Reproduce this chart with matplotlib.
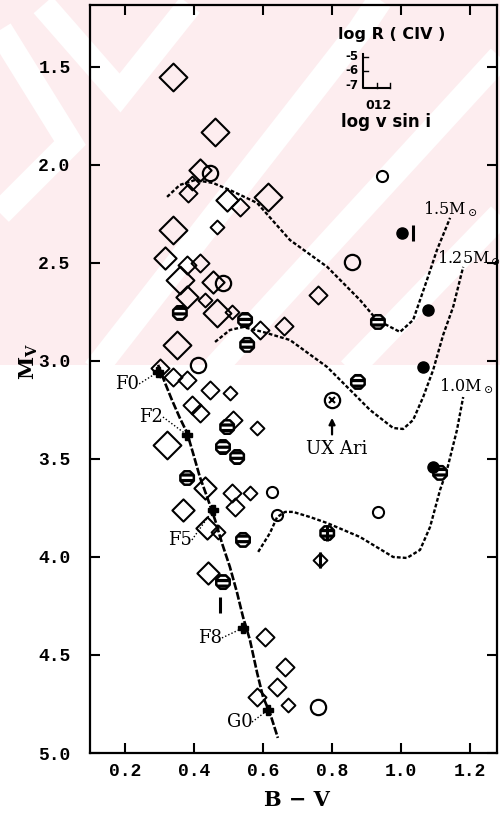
import matplotlib
matplotlib.use("Agg")
import matplotlib.pyplot as plt
from matplotlib.path import Path
from matplotlib.patches import Rectangle
from matplotlib.lines import Line2D

plt.rcParams['mathtext.fontset'] = 'dejavuserif'
plt.rcParams['hatch.linewidth'] = 2.3
plt.rcParams['hatch.color'] = 'black'

# ---------------- data ----------------
# evolutionary tracks (B-V, Mv)
track15_bv = [0.322, 0.359, 0.403, 0.455, 0.504, 0.583, 0.678, 0.786, 0.881, 0.930, 0.997, 1.035, 1.075, 1.104, 1.142]
track15_mv = [2.163, 2.102, 2.077, 2.092, 2.128, 2.194, 2.383, 2.520, 2.689, 2.791, 2.852, 2.791, 2.587, 2.434, 2.270]
track125_bv = [0.461, 0.504, 0.542, 0.600, 0.678, 0.786, 0.861, 0.910, 0.977, 1.006, 1.035, 1.064, 1.093, 1.122, 1.151, 1.180]
track125_mv = [2.903, 2.842, 2.827, 2.852, 2.893, 3.031, 3.163, 3.250, 3.342, 3.347, 3.301, 3.184, 3.046, 2.867, 2.724, 2.520]
track10_bv = [0.586, 0.620, 0.641, 0.664, 0.687, 0.736, 0.786, 0.881, 0.977, 1.017, 1.055, 1.084, 1.113, 1.133, 1.162, 1.180]
track10_mv = [3.974, 3.878, 3.796, 3.770, 3.770, 3.796, 3.827, 3.898, 4.000, 4.005, 3.964, 3.847, 3.658, 3.556, 3.352, 3.184]
track_labels = ['1.5M$_\\odot$', '1.25M$_\\odot$', '1.0M$_\\odot$']
track_label_bv = [1.064, 1.104, 1.110]
track_label_mv = [2.224, 2.474, 3.128]

# main sequence
zams_bv = [0.296, 0.316, 0.336, 0.359, 0.380, 0.397, 0.417, 0.438, 0.461, 0.481, 0.504, 0.525, 0.542, 0.562, 0.583, 0.600, 0.620, 0.643]
zams_mv = [3.020, 3.112, 3.199, 3.291, 3.367, 3.469, 3.592, 3.694, 3.811, 3.929, 4.051, 4.184, 4.306, 4.423, 4.592, 4.714, 4.796, 4.923]

# spectral types on the main sequence
sp_types = ['F0', 'F2', 'F5', 'F8', 'G0']
sp_bv = [0.296, 0.380, 0.455, 0.542, 0.614]
sp_mv = [3.056, 3.378, 3.760, 4.362, 4.781]
sp_label_bv = [0.206, 0.275, 0.359, 0.446, 0.533]
sp_label_mv = [3.117, 3.286, 3.913, 4.413, 4.842]

# open diamonds, by symbol size class
dia_xl_bv = [0.339, 0.461, 0.614, 0.339, 0.359, 0.467, 0.351, 0.322]
dia_xl_mv = [1.551, 1.832, 2.163, 2.332, 2.587, 2.755, 2.918, 3.429]
dia_l_bv = [0.417, 0.496, 0.316, 0.455, 0.380, 0.368, 0.441, 0.432, 0.438]
dia_l_mv = [2.026, 2.179, 2.474, 2.597, 2.673, 3.760, 4.082, 3.648, 3.852]
dia_m_bv = [0.383, 0.533, 0.417, 0.380, 0.591, 0.661, 0.759, 0.301, 0.339, 0.380, 0.446, 0.394, 0.417, 0.513,
            0.510, 0.519, 0.606, 0.664, 0.641, 0.583]
dia_m_mv = [2.143, 2.214, 2.500, 2.510, 2.842, 2.821, 2.663, 3.036, 3.082, 3.097, 3.148, 3.224, 3.265, 3.301,
            3.673, 3.745, 4.408, 4.561, 4.663, 4.714]
dia_s_bv = [0.394, 0.467, 0.432, 0.510, 0.504, 0.583, 0.562, 0.470, 0.672, 0.765]
dia_s_mv = [2.092, 2.316, 2.689, 2.750, 3.163, 3.342, 3.673, 3.872, 4.755, 4.015]

# open circles
circ_bv = [0.446, 0.858, 0.484, 0.412, 0.759]
circ_mv = [2.041, 2.495, 2.602, 3.020, 4.765]
circ_s_bv = [0.945, 0.626, 0.641, 0.933]
circ_s_mv = [2.056, 3.668, 3.786, 3.770]

# hatched (striped) symbols
hat_bv = [0.359, 0.548, 0.554, 0.933, 0.496, 0.484, 0.525, 0.380, 0.542, 0.484, 0.875, 0.786, 1.113]
hat_mv = [2.755, 2.791, 2.918, 2.801, 3.337, 3.439, 3.490, 3.597, 3.913, 4.128, 3.107, 3.878, 3.571]

# filled dots
dot_bv = [1.078, 1.064, 1.003, 1.093]
dot_mv = [2.740, 3.031, 2.347, 3.541]

# small daggers / bars
bar_bv = [1.035, 0.475, 0.786, 0.765]
bar_mv = [2.347, 4.245, 3.878, 4.015]

# UX Ari
uxari_bv = 0.800
uxari_mv = 3.199

# ---------------- figure ----------------
fig = plt.figure(figsize=(5.0, 8.16), dpi=100)
fig.patch.set_facecolor('white')

# faint pink watermark in the upper part
W, H = 500.0, 816.0
def fp(x, y):
    return (x / W, 1 - y / H)
bg = Rectangle(fp(0, 365), 1, 365 / H, transform=fig.transFigure,
               facecolor='#fdedef', edgecolor='none', zorder=0)
fig.patches.append(bg)
white_strokes = [
    [(0, 30), (70, 143), (0, 213)],
    [(43, 5), (120, 93), (190, 5)],
    [(95, 370), (360, 30), (380, 0)],
    [(213, 370), (500, 57)],
    [(350, 370), (500, 215)],
]
for st in white_strokes:
    xs = [fp(*p)[0] for p in st]
    ys = [fp(*p)[1] for p in st]
    ln = Line2D(xs, ys, transform=fig.transFigure, color='white', lw=18,
                solid_capstyle='butt', solid_joinstyle='miter', zorder=0.5)
    ln.set_clip_path(bg)
    fig.lines.append(ln)

ax = fig.add_axes([90 / W, 1 - 753 / H, 407 / W, 748 / H])
ax.set_zorder(2)
ax.set_facecolor('none')
ax.set_xlim(0.0986, 1.278)
ax.set_ylim(5.0, 1.184)

diamond = Path([(0, 1), (1, 0), (0, -1), (-1, 0), (0, 1)],
               [Path.MOVETO, Path.LINETO, Path.LINETO, Path.LINETO, Path.CLOSEPOLY])

k = dict(color='black', zorder=3)
# tracks
ax.plot(track15_bv, track15_mv, lw=1.7, ls=(0, (1.6, 0.9)), **k)
ax.plot(track125_bv, track125_mv, lw=1.7, ls=(0, (1.6, 0.9)), **k)
ax.plot(track10_bv, track10_mv, lw=1.7, ls=(0, (1.6, 0.9)), **k)
ax.plot(zams_bv, zams_mv, lw=1.9, ls=(0, (3, 0.8)), **k)

for lab, x, y in zip(track_labels, track_label_bv, track_label_mv):
    ax.text(x, y, lab, fontsize=11.5, family='DejaVu Serif', ha='left', va='center',
            clip_on=False, zorder=5)

# open diamonds
mk = dict(ls='none', marker=diamond, mfc='none', mec='black', zorder=4)
ax.plot(dia_xl_bv, dia_xl_mv, ms=20, mew=1.5, **mk)
ax.plot(dia_l_bv, dia_l_mv, ms=16, mew=1.5, **mk)
ax.plot(dia_m_bv, dia_m_mv, ms=13, mew=1.4, **mk)
ax.plot(dia_s_bv, dia_s_mv, ms=10, mew=1.4, **mk)

# circles
ax.plot(circ_bv, circ_mv, ls='none', marker='o', ms=11, mfc='none', mec='black', mew=1.6, zorder=4)
ax.plot(circ_s_bv, circ_s_mv, ls='none', marker='o', ms=8, mfc='none', mec='black', mew=1.5, zorder=4)

# hatched symbols
ax.scatter(hat_bv, hat_mv, s=110, marker='8', facecolor='white', edgecolor='black',
           hatch='---', linewidths=1.8, zorder=5)

# filled dots
ax.plot(dot_bv, dot_mv, ls='none', marker='o', ms=8, color='black', zorder=5)
# vertical bars
ax.plot(bar_bv, bar_mv, ls='none', marker='|', ms=11, mew=2.2, color='black', zorder=5)

# spectral types
ax.plot(sp_bv, sp_mv, ls='none', marker='P', ms=7, color='black', zorder=5)
for lab, x, y, sx, sy in zip(sp_types, sp_label_bv, sp_label_mv, sp_bv, sp_mv):
    ax.text(x, y, lab, fontsize=13, family='DejaVu Serif', ha='center', va='center', zorder=6)
    ax.plot([x + 0.035, sx], [y, sy], color='black', lw=1.0, ls=(0, (1, 1.5)), zorder=3)

# UX Ari
ax.plot([uxari_bv], [uxari_mv], ls='none', marker='o', ms=11, mfc='white', mec='black', mew=1.6, zorder=6)
ax.plot([uxari_bv], [uxari_mv], ls='none', marker='x', ms=5, mec='black', mew=1.5, zorder=7)
ax.annotate('', xy=(uxari_bv, uxari_mv + 0.077), xytext=(uxari_bv, uxari_mv + 0.19),
            arrowprops=dict(arrowstyle='-|>', lw=1.6, color='black', mutation_scale=9), zorder=6)
ax.text(uxari_bv + 0.014, uxari_mv + 0.25, 'UX Ari', fontsize=13, family='DejaVu Serif',
        ha='center', va='center', zorder=6)

# symbol key (upper right)
tA = ax.transAxes
ax.text(0.742, 0.961, 'log R ( CIV )', transform=tA, fontsize=11.5, fontweight='bold',
        ha='center', va='center')
for lab, yy in zip(['-5', '-6', '-7'], [0.931, 0.912, 0.892]):
    ax.text(0.643, yy, lab, transform=tA, fontsize=8.5, fontweight='bold', ha='center', va='center')
ax.plot([0.671, 0.671, 0.737], [0.935, 0.889, 0.889], transform=tA, color='black', lw=1.5)
for yy in [0.931, 0.912]:
    ax.plot([0.671, 0.683], [yy, yy], transform=tA, color='black', lw=1.0)
for xx in [0.704, 0.737]:
    ax.plot([xx, xx], [0.889, 0.896], transform=tA, color='black', lw=1.0)
ax.text(0.708, 0.866, '012', transform=tA, fontsize=9, fontweight='bold', ha='center', va='center')
ax.text(0.727, 0.844, 'log v sin i', transform=tA, fontsize=12, fontweight='bold',
        ha='center', va='center')

# axes styling
for sp in ax.spines.values():
    sp.set_linewidth(1.6)
ax.set_xticks([0.2, 0.4, 0.6, 0.8, 1.0, 1.2])
ax.set_yticks([1.5, 2.0, 2.5, 3.0, 3.5, 4.0, 4.5, 5.0])
ax.set_xticklabels(['0.2', '0.4', '0.6', '0.8', '1.0', '1.2'])
ax.set_yticklabels(['1.5', '2.0', '2.5', '3.0', '3.5', '4.0', '4.5', '5.0'])
ax.tick_params(direction='in', length=7, width=1.5, top=True, right=True)
ax.tick_params(axis='y', pad=14)
ax.tick_params(axis='x', pad=7)
for lab in ax.get_xticklabels() + ax.get_yticklabels():
    lab.set_family('Liberation Mono')
    lab.set_fontweight('bold')
    lab.set_fontsize(13)

fig.text(297 / W, 1 - 800 / H, 'B − V', fontsize=15, fontweight='bold', family='DejaVu Serif',
         ha='center', va='center')
fig.text(29 / W, 1 - 362 / H, r'M$_\mathbf{V}$', fontsize=15, fontweight='bold', family='DejaVu Serif',
         rotation=90, ha='center', va='center')

fig.savefig('out.png', dpi=100, facecolor='white')
